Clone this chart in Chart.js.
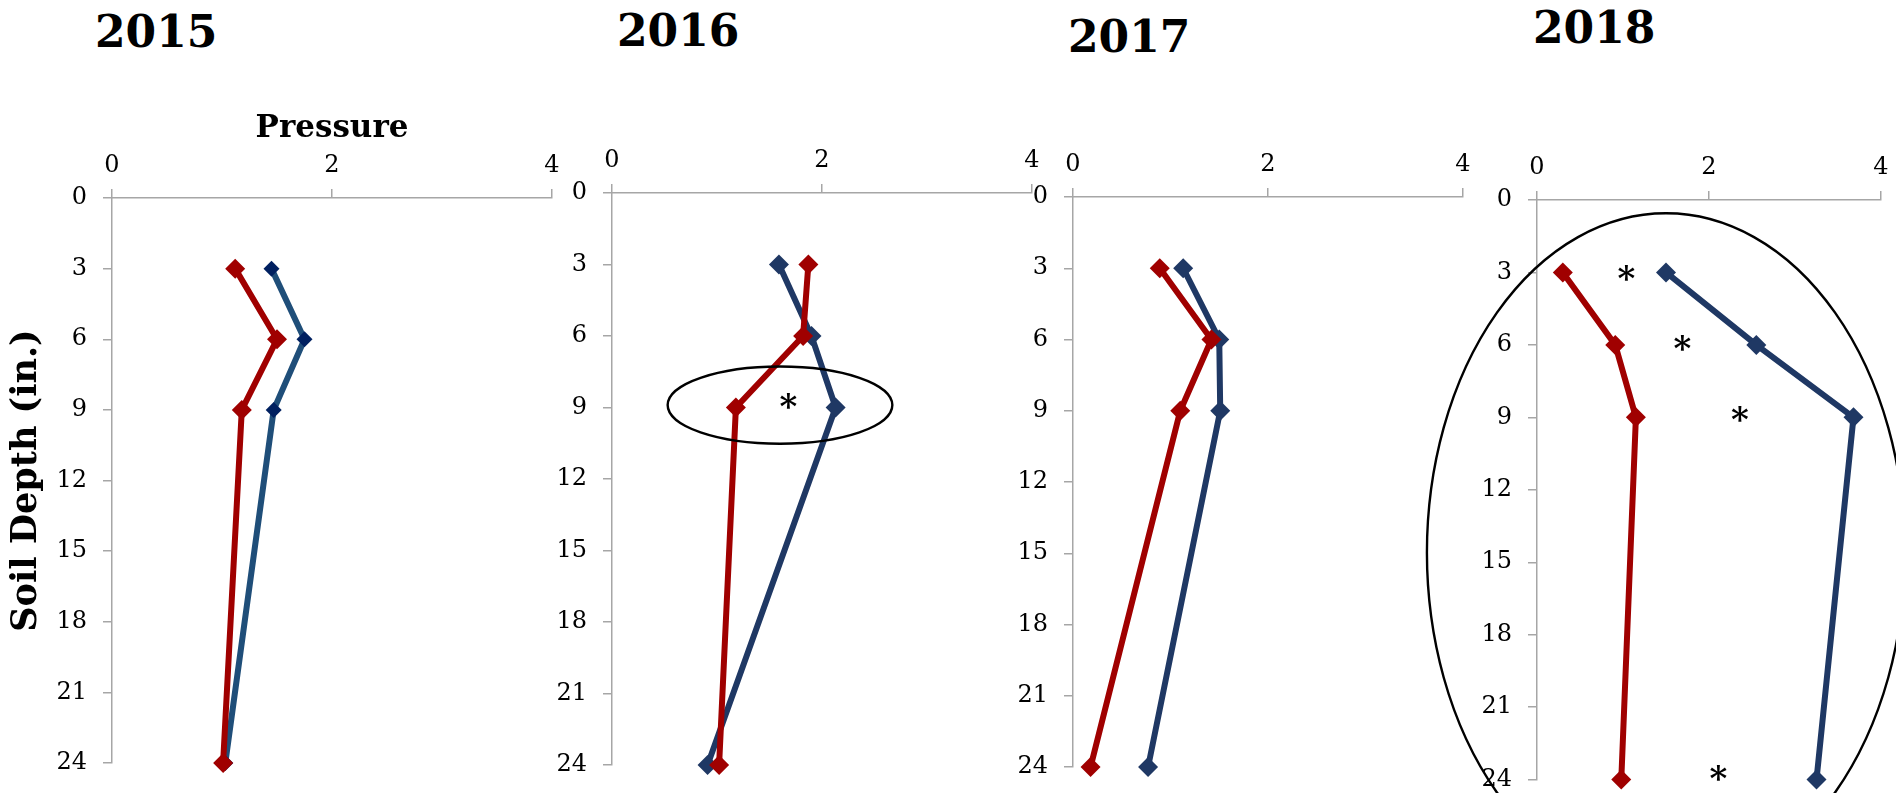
<!DOCTYPE html>
<html>
<head>
<meta charset="utf-8">
<script src="https://cdn.jsdelivr.net/npm/chart.js@4/dist/chart.umd.min.js"></script>
<style>
html, body { margin: 0; padding: 0; width: 1896px; height: 793px; overflow: hidden; background: #fff; }
canvas { position: absolute; left: 0; top: 0; }
.yr { position: absolute; margin: 0; font: bold 44px "DejaVu Serif"; line-height: 1; color: #000; }
</style>
</head>
<body>
<div class="yr" style="left:95px;top:10px">2015</div>
<div class="yr" style="left:617px;top:9px">2016</div>
<div class="yr" style="left:1068px;top:15px">2017</div>
<div class="yr" style="left:1533px;top:6px">2018</div>
<canvas id="c2015" width="1920" height="810"></canvas>
<canvas id="c2016" width="1920" height="810"></canvas>
<canvas id="c2017" width="1920" height="810"></canvas>
<canvas id="c2018" width="1920" height="810"></canvas>
<script>
// data

const depths = [3, 6, 9, 24];
const xTicks = [0, 2, 4];
const yTicks = [0, 3, 6, 9, 12, 15, 18, 21, 24];

const red2015 = [1.12, 1.50, 1.18, 1.01];
const blue2015 = [1.45, 1.75, 1.47, 1.03];
const red2016 = [1.87, 1.82, 1.18, 1.02];
const blue2016 = [1.59, 1.90, 2.13, 0.91];
const red2017 = [0.89, 1.42, 1.10, 0.18];
const blue2017 = [1.13, 1.50, 1.51, 0.77];
const red2018 = [0.30, 0.91, 1.15, 0.98];
const blue2018 = [1.50, 2.55, 3.68, 3.25];

// annotations (cx, cy, rx, ry) and asterisks, in axis units
const ring2016 = [1.60, 8.9, 1.07, 1.62];
const stars2016 = [[1.68, 8.8]];
const ring2018 = [1.50, 14.6, 2.78, 14.05];
const stars2018 = [[1.04, 3.1], [1.69, 6.0], [2.36, 8.95], [2.11, 23.8]];

const W = 1920, H = 810;
const RED = '#a00000';
const AXIS = '#a6a6a6';
const tickFont = { family: 'DejaVu Serif', size: 24 };

function pts(xs) {
    return xs.map((v, i) => ({ x: v, y: depths[i] }));
}

function marks(ring, stars) { // ellipse + asterisks
    return {
        id: 'marks',
        afterDraw(chart) {
            const { ctx, scales: { x, y } } = chart;
            ctx.save();
            if (ring) {
                const cx = x.getPixelForValue(ring[0]);
                const cy = y.getPixelForValue(ring[1]);
                const rx = Math.abs(x.getPixelForValue(ring[0] + ring[2]) - cx);
                const ry = Math.abs(y.getPixelForValue(ring[1] + ring[3]) - cy);
                ctx.beginPath();
                ctx.ellipse(cx, cy, rx, ry, 0, 0, Math.PI * 2);
                ctx.strokeStyle = '#000';
                ctx.lineWidth = 2.4;
                ctx.stroke();
            }
            ctx.fillStyle = '#000';
            ctx.font = 'bold 34px "DejaVu Serif"';
            ctx.textAlign = 'center';
            ctx.textBaseline = 'alphabetic';
            (stars || []).forEach(s => {
                ctx.fillText('*', x.getPixelForValue(s[0]), y.getPixelForValue(s[1]) + 15);
            });
            ctx.restore();
        }
    };
}

function panel(id, red, blue, area, o) {
    o = o || {};
    const blueLine = o.blueLine || '#1f3864';
    const blueDot = o.blueDot || '#1f3864';
    return new Chart(document.getElementById(id), {
        type: 'scatter',
        data: {
            datasets: [{
                data: pts(red),
                showLine: true,
                clip: false,
                borderColor: RED,
                backgroundColor: RED,
                borderWidth: 6,
                pointStyle: 'rectRot',
                pointRadius: 10,
                pointBorderWidth: 0
            }, {
                data: pts(blue),
                showLine: true,
                clip: false,
                borderColor: blueLine,
                backgroundColor: blueDot,
                borderWidth: 6,
                pointStyle: 'rectRot',
                pointRadius: o.blueR || 10,
                pointBorderWidth: 0
            }]
        },
        options: {
            responsive: false,
            animation: false,
            devicePixelRatio: 1,
            layout: { padding: { left: 0, top: 0, right: W - area[2], bottom: H - area[3] } },
            plugins: { legend: { display: false }, tooltip: { enabled: false } },
            scales: {
                x: {
                    type: 'linear',
                    position: 'top',
                    min: 0,
                    max: 4,
                    afterBuildTicks: s => { s.ticks = xTicks.map(v => ({ value: v })); },
                    afterFit: s => { s.height = area[1]; },
                    grid: { drawOnChartArea: false, drawTicks: true, tickLength: 9, color: AXIS, lineWidth: 1.5 },
                    border: { color: AXIS, width: 1.5 },
                    ticks: { font: tickFont, color: '#000', padding: 9, maxRotation: 0 },
                    title: o.xTitle ? {
                        display: true, text: o.xTitle, color: '#000',
                        font: { family: 'DejaVu Serif', size: 31, weight: 'bold' },
                        padding: { top: 110, bottom: 0 }
                    } : { display: false }
                },
                y: {
                    type: 'linear',
                    position: 'left',
                    reverse: true,
                    min: 0,
                    max: 24,
                    afterBuildTicks: s => { s.ticks = yTicks.map(v => ({ value: v })); },
                    afterFit: s => { s.width = area[0]; },
                    grid: { drawOnChartArea: false, drawTicks: true, tickLength: 9, color: AXIS, lineWidth: 1.5 },
                    border: { color: AXIS, width: 1.5 },
                    ticks: { font: tickFont, color: '#000', padding: 16 },
                    title: o.yTitle ? {
                        display: true, text: o.yTitle, color: '#000',
                        font: { family: 'DejaVu Serif', size: 35, weight: 'bold' },
                        padding: { top: 6, bottom: 0 }
                    } : { display: false }
                }
            }
        },
        plugins: [marks(o.ring, o.stars)]
    });
}

panel('c2015', red2015, blue2015, [112, 198, 552, 763],
    { blueLine: '#1f4e79', blueDot: '#002060', blueR: 8, xTitle: 'Pressure', yTitle: 'Soil Depth (in.)' });
panel('c2016', red2016, blue2016, [612, 193, 1032, 765], { ring: ring2016, stars: stars2016 });
panel('c2017', red2017, blue2017, [1073, 197, 1463, 767]);
panel('c2018', red2018, blue2018, [1537, 200, 1881, 783], { ring: ring2018, stars: stars2018 });
</script>
</body>
</html>
